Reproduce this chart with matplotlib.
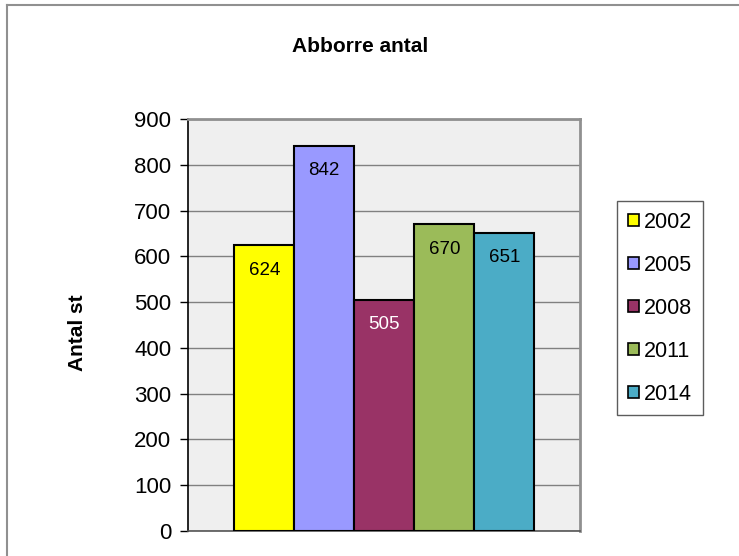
import matplotlib
matplotlib.use("Agg")
import matplotlib.pyplot as plt
from matplotlib.patches import Patch
from matplotlib.lines import Line2D

plt.rcParams['font.family'] = ['Liberation Sans', 'DejaVu Sans']

years = ["2002", "2005", "2008", "2011", "2014"]
values = [624, 842, 505, 670, 651]
colors = ["#FFFF00", "#9999FF", "#993366", "#9BBB59", "#4BACC6"]
label_colors = ["black", "black", "white", "black", "black"]
yticks = [0, 100, 200, 300, 400, 500, 600, 700, 800, 900]

W, H = 739, 556
fig = plt.figure(figsize=(W / 100, H / 100), dpi=100)
ax = fig.add_axes([188 / W, 1 - 531 / H, (580 - 188) / W, (531 - 119) / H])
ax.set_facecolor("#EFEFEF")

x = list(range(len(years)))
bars = ax.bar(x, values, width=1.0, color=colors, edgecolor="black", linewidth=1.5, zorder=3)
for xi, v, lc in zip(x, values, label_colors):
    ax.annotate(str(v), (xi, v), xytext=(0, -25), textcoords="offset pixels",
                ha="center", va="center", fontsize=13.5, color=lc, zorder=4)

ax.set_xlim(-1.27, 5.26)
ax.set_ylim(0, 900)
ax.set_yticks(yticks)
ax.set_yticklabels([str(t) for t in yticks], fontsize=16)
ax.set_xticks([])
ax.yaxis.grid(True, color="#808080", linewidth=1.0, zorder=0)
ax.tick_params(axis="y", direction="out", length=6, width=1, color="black", pad=6)

for side in ["top", "right"]:
    ax.spines[side].set_color("#909090")
    ax.spines[side].set_linewidth(2)
ax.spines["left"].set_color("black")
ax.spines["left"].set_linewidth(1.2)
ax.spines["bottom"].set_color("#555555")
ax.spines["bottom"].set_linewidth(1.2)

ax.set_ylabel("Antal st", fontsize=15, fontweight="bold")
ax.yaxis.set_label_coords((87 - 188) / (580 - 188), (531 - 333) / (531 - 119))

fig.text(360 / W, 1 - 46 / H, "Abborre antal", fontsize=15, fontweight="bold",
         ha="center", va="center")

handles = [Patch(facecolor=c, edgecolor="black", linewidth=1.2) for c in colors]
leg = fig.legend(handles, years, loc="upper left",
                 bbox_to_anchor=(617 / W, 1 - 201 / H), bbox_transform=fig.transFigure,
                 borderaxespad=0, fontsize=15.5, frameon=True, fancybox=False,
                 edgecolor="#333333", handlelength=0.5, handleheight=0.5,
                 handletextpad=0.25, labelspacing=1.02, borderpad=0.5)
leg.get_frame().set_linewidth(1.0)

# outer chart border (top and left)
fig.add_artist(Line2D([7 / W, 1], [1 - 5 / H, 1 - 5 / H], color="#909090", linewidth=1.5,
                      transform=fig.transFigure))
fig.add_artist(Line2D([7 / W, 7 / W], [1 - 5 / H, 0], color="#909090", linewidth=1.5,
                      transform=fig.transFigure))

fig.savefig("out.png", dpi=100)
